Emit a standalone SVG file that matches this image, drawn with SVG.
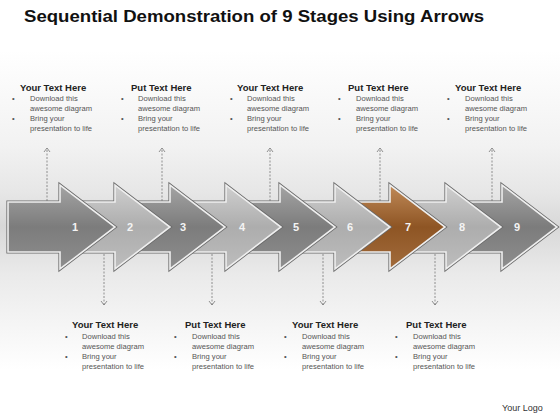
<svg xmlns="http://www.w3.org/2000/svg" width="560" height="420" viewBox="0 0 560 420">
<style>
.title{font-family:"Liberation Sans",Arial,sans-serif;font-weight:bold;font-size:16.5px;fill:#111}
.hd{font-family:"Liberation Sans",Arial,sans-serif;font-weight:bold;font-size:9.5px;fill:#222}
.bd{font-family:"Liberation Sans",Arial,sans-serif;font-size:7.6px;fill:#555}
.num{font-family:"Liberation Sans",Arial,sans-serif;font-weight:bold;font-size:11px;fill:#f4f4f4;text-anchor:middle}
.logo{font-family:"Liberation Sans",Arial,sans-serif;font-size:9px;fill:#333}
.con{stroke:#777;stroke-width:0.8;stroke-dasharray:2,1.5;fill:none}
.up{marker-end:url(#chev)}
.dn{marker-end:url(#chev)}
.outer{fill:none;stroke:#6a6a6a;stroke-width:3.2}
.inner{stroke:#efefef;stroke-width:1.6}
.dark{fill:url(#gDark)}
.light{fill:url(#gLight)}
.brown{fill:url(#gBrown)}
</style>
<defs>
<linearGradient id="bg" x1="0" y1="0" x2="0" y2="1">
<stop offset="0" stop-color="#ffffff"/>
<stop offset="0.3" stop-color="#f2f2f2"/>
<stop offset="0.45" stop-color="#e6e6e6"/>
<stop offset="0.55" stop-color="#d8d8d8"/>
<stop offset="0.7" stop-color="#eaeaea"/>
<stop offset="1" stop-color="#ffffff"/>
</linearGradient>
<linearGradient id="gDark" x1="0" y1="0" x2="0" y2="1">
<stop offset="0" stop-color="#a4a4a4"/>
<stop offset="0.5" stop-color="#7c7c7c"/>
<stop offset="1" stop-color="#8e8e8e"/>
</linearGradient>
<linearGradient id="gLight" x1="0" y1="0" x2="0" y2="1">
<stop offset="0" stop-color="#cfcfcf"/>
<stop offset="0.5" stop-color="#adadad"/>
<stop offset="1" stop-color="#bdbdbd"/>
</linearGradient>
<linearGradient id="gBrown" x1="0" y1="0" x2="0" y2="1">
<stop offset="0" stop-color="#c08a58"/>
<stop offset="0.5" stop-color="#8e5524"/>
<stop offset="1" stop-color="#a26c3c"/>
</linearGradient>
<path id="arr" d="M-52,-25 L0,-25 L0,-42 L55,0 L0,42 L0,25 L-52,25 Z"/>
<marker id="chev" viewBox="-5 -4 6 8" refX="0" refY="0" markerWidth="6" markerHeight="8" markerUnits="userSpaceOnUse" orient="auto">
<path d="M-4,-3 L0,0 L-4,3" fill="none" stroke="#777" stroke-width="0.8"/>
</marker>
</defs>
<rect x="0" y="0" width="560" height="420" fill="#ffffff"/>
<rect x="0" y="50" width="560" height="320" fill="url(#bg)"/>
<text class="title" x="24" y="22" textLength="460" lengthAdjust="spacingAndGlyphs">Sequential Demonstration of 9 Stages Using Arrows</text>

<g id="connectors">
<line class="con up" x1="47" y1="215" x2="47" y2="148"/>
<line class="con up" x1="162" y1="215" x2="162" y2="148"/>
<line class="con up" x1="270" y1="215" x2="270" y2="148"/>
<line class="con up" x1="380" y1="215" x2="380" y2="148"/>
<line class="con up" x1="492" y1="215" x2="492" y2="148"/>
<line class="con dn" x1="104" y1="240" x2="104" y2="305"/>
<line class="con dn" x1="212" y1="240" x2="212" y2="305"/>
<line class="con dn" x1="323" y1="240" x2="323" y2="305"/>
<line class="con dn" x1="435" y1="240" x2="435" y2="305"/>
</g>

<g id="arrow9" transform="translate(502,227)"><use href="#arr" class="outer"/><use href="#arr" class="dark inner"/></g>
<g id="arrow8" transform="translate(446,227)"><use href="#arr" class="outer"/><use href="#arr" class="light inner"/></g>
<g id="arrow7" transform="translate(390,227)"><use href="#arr" class="outer"/><use href="#arr" class="brown inner"/></g>
<g id="arrow6" transform="translate(335,227)"><use href="#arr" class="outer"/><use href="#arr" class="light inner"/></g>
<g id="arrow5" transform="translate(280,227)"><use href="#arr" class="outer"/><use href="#arr" class="dark inner"/></g>
<g id="arrow4" transform="translate(226,227)"><use href="#arr" class="outer"/><use href="#arr" class="light inner"/></g>
<g id="arrow3" transform="translate(170,227)"><use href="#arr" class="outer"/><use href="#arr" class="dark inner"/></g>
<g id="arrow2" transform="translate(115,227)"><use href="#arr" class="outer"/><use href="#arr" class="light inner"/></g>
<g id="arrow1" transform="translate(60,227)"><use href="#arr" class="outer"/><use href="#arr" class="dark inner"/></g>

<g id="numbers">
<text class="num" x="75" y="231">1</text>
<text class="num" x="130" y="231">2</text>
<text class="num" x="183" y="231">3</text>
<text class="num" x="242" y="231">4</text>
<text class="num" x="296" y="231">5</text>
<text class="num" x="350" y="231">6</text>
<text class="num" x="408" y="231">7</text>
<text class="num" x="462" y="231">8</text>
<text class="num" x="517" y="231">9</text>
</g>

<g id="top1">
<text class="hd" x="20" y="90.5">Your Text Here</text>
<text class="bd" x="12" y="101">•</text><text class="bd" x="30" y="101">Download this</text>
<text class="bd" x="30" y="111">awesome diagram</text>
<text class="bd" x="12" y="121">•</text><text class="bd" x="30" y="121">Bring your</text>
<text class="bd" x="30" y="131">presentation to life</text>
</g>
<g id="top2">
<text class="hd" x="131" y="90.5">Put Text Here</text>
<text class="bd" x="121" y="101">•</text><text class="bd" x="138" y="101">Download this</text>
<text class="bd" x="138" y="111">awesome diagram</text>
<text class="bd" x="121" y="121">•</text><text class="bd" x="138" y="121">Bring your</text>
<text class="bd" x="138" y="131">presentation to life</text>
</g>
<g id="top3">
<text class="hd" x="237" y="90.5">Your Text Here</text>
<text class="bd" x="230" y="101">•</text><text class="bd" x="247" y="101">Download this</text>
<text class="bd" x="247" y="111">awesome diagram</text>
<text class="bd" x="230" y="121">•</text><text class="bd" x="247" y="121">Bring your</text>
<text class="bd" x="247" y="131">presentation to life</text>
</g>
<g id="top4">
<text class="hd" x="348" y="90.5">Put Text Here</text>
<text class="bd" x="338" y="101">•</text><text class="bd" x="356" y="101">Download this</text>
<text class="bd" x="356" y="111">awesome diagram</text>
<text class="bd" x="338" y="121">•</text><text class="bd" x="356" y="121">Bring your</text>
<text class="bd" x="356" y="131">presentation to life</text>
</g>
<g id="top5">
<text class="hd" x="455" y="90.5">Your Text Here</text>
<text class="bd" x="447" y="101">•</text><text class="bd" x="465" y="101">Download this</text>
<text class="bd" x="465" y="111">awesome diagram</text>
<text class="bd" x="447" y="121">•</text><text class="bd" x="465" y="121">Bring your</text>
<text class="bd" x="465" y="131">presentation to life</text>
</g>

<g id="bot1">
<text class="hd" x="72" y="327.5">Your Text Here</text>
<text class="bd" x="65" y="339">•</text><text class="bd" x="82" y="339">Download this</text>
<text class="bd" x="82" y="349">awesome diagram</text>
<text class="bd" x="65" y="359">•</text><text class="bd" x="82" y="359">Bring your</text>
<text class="bd" x="82" y="369">presentation to life</text>
</g>
<g id="bot2">
<text class="hd" x="185" y="327.5">Put Text Here</text>
<text class="bd" x="174" y="339">•</text><text class="bd" x="192" y="339">Download this</text>
<text class="bd" x="192" y="349">awesome diagram</text>
<text class="bd" x="174" y="359">•</text><text class="bd" x="192" y="359">Bring your</text>
<text class="bd" x="192" y="369">presentation to life</text>
</g>
<g id="bot3">
<text class="hd" x="292" y="327.5">Your Text Here</text>
<text class="bd" x="284" y="339">•</text><text class="bd" x="302" y="339">Download this</text>
<text class="bd" x="302" y="349">awesome diagram</text>
<text class="bd" x="284" y="359">•</text><text class="bd" x="302" y="359">Bring your</text>
<text class="bd" x="302" y="369">presentation to life</text>
</g>
<g id="bot4">
<text class="hd" x="406" y="327.5">Put Text Here</text>
<text class="bd" x="395" y="339">•</text><text class="bd" x="413" y="339">Download this</text>
<text class="bd" x="413" y="349">awesome diagram</text>
<text class="bd" x="395" y="359">•</text><text class="bd" x="413" y="359">Bring your</text>
<text class="bd" x="413" y="369">presentation to life</text>
</g>

<text class="logo" x="502" y="411">Your Logo</text>
</svg>
